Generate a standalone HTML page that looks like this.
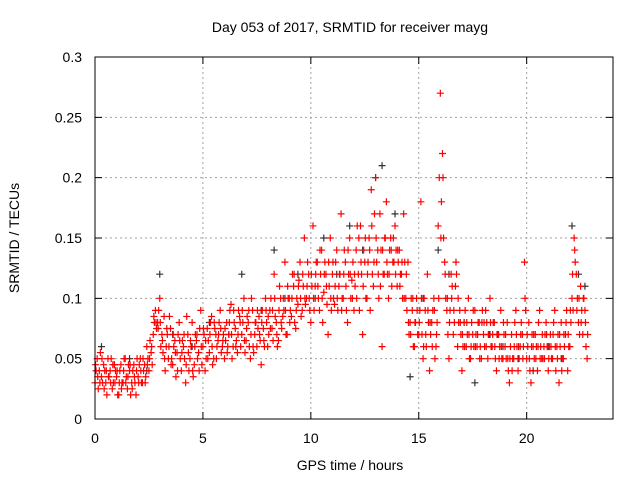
<!DOCTYPE html>
<html><head><meta charset="utf-8"><style>
html,body{margin:0;padding:0;background:#fff;}
svg{display:block;font-family:"Liberation Sans",sans-serif;}
</style></head><body>
<svg id="chart" width="640" height="480" viewBox="0 0 640 480">
<rect width="640" height="480" fill="#fff"/>
<text x="350" y="32" font-size="14" text-anchor="middle" fill="#000">Day 053 of 2017, SRMTID for receiver mayg</text>
<g id="grid"></g>
<g id="axes"></g>
<g id="marks"></g>
<rect x="95" y="57" width="518" height="362" fill="none" stroke="#000" stroke-width="1"/>
<text x="350" y="470" font-size="14" text-anchor="middle">GPS time / hours</text>
<text transform="translate(19,238) rotate(-90)" font-size="14" text-anchor="middle">SRMTID / TECUs</text>
</svg>
<script>
const xTicks=[0,5,10,15,20];
const yTicks=[0,0.05,0.1,0.15,0.2,0.25,0.3];
const yTickLabels=["0","0.05","0.1","0.15","0.2","0.25","0.3"];
const redStart=0, redStep=0.1;
const redValues=[
0.03,0.05,0.04,0.035,0.045,0.03,0.05,0.04,0.025,0.045,
0.035,0.02,0.045,0.03,0.05,0.025,0.04,0.03,0.045,0.02,
0.035,0.05,0.03,0.045,0.06,0.04,0.055,0.07,0.09,0.08,
0.1,0.07,0.085,0.06,0.05,0.075,0.045,0.065,0.055,0.08,
0.04,0.06,0.03,0.07,0.05,0.08,0.045,0.065,0.055,0.09,
0.06,0.04,0.075,0.055,0.085,0.05,0.07,0.065,0.09,0.06,
0.05,0.08,0.07,0.095,0.06,0.075,0.055,0.085,0.07,0.1,
0.065,0.08,0.05,0.09,0.07,0.06,0.085,0.045,0.075,0.1,
0.06,0.09,0.075,0.12,0.08,0.065,0.1,0.085,0.13,0.07,
0.1,0.085,0.11,0.075,0.095,0.13,0.09,0.15,0.1,0.12,
0.08,0.16,0.11,0.13,0.09,0.14,0.105,0.12,0.07,0.15,
0.12,0.095,0.14,0.11,0.17,0.1,0.13,0.08,0.15,0.115,
0.09,0.14,0.12,0.16,0.07,0.13,0.1,0.15,0.19,0.11,
0.2,0.14,0.17,0.06,0.12,0.18,0.1,0.15,0.13,0.16,
0.11,0.14,0.12,0.17,0.1,0.13,0.08,0.09,0.06,0.1,
0.07,0.18,0.05,0.09,0.12,0.04,0.08,0.1,0.06,0.16,
0.27,0.22,0.13,0.09,0.05,0.12,0.07,0.11,0.06,0.09,
0.04,0.08,0.06,0.1,0.05,0.07,0.09,0.06,0.08,0.05,
0.07,0.09,0.05,0.1,0.06,0.08,0.04,0.07,0.09,0.05,
0.06,0.08,0.03,0.07,0.05,0.09,0.04,0.06,0.07,0.13,
0.05,0.08,0.03,0.06,0.07,0.04,0.09,0.05,0.06,0.08,
0.04,0.07,0.05,0.09,0.06,0.03,0.08,0.05,0.07,0.04,
0.06,0.1,0.15,0.12,0.08,0.11,0.07,0.09,0.05];
const red2Start=0.05, red2Step=0.1;
const red2Values=[
0.04,0.025,0.055,0.03,0.04,0.02,0.035,0.05,0.03,0.04,
0.02,0.04,0.03,0.05,0.035,0.045,0.02,0.04,0.03,0.05,
0.045,0.03,0.04,0.035,0.05,0.065,0.045,0.08,0.075,0.09,
0.06,0.055,0.04,0.07,0.085,0.05,0.06,0.035,0.07,0.05,
0.065,0.05,0.085,0.04,0.06,0.035,0.07,0.05,0.075,0.045,
0.07,0.05,0.065,0.08,0.045,0.075,0.06,0.08,0.055,0.07,
0.065,0.06,0.09,0.05,0.08,0.065,0.09,0.06,0.08,0.055,
0.085,0.06,0.1,0.055,0.08,0.075,0.065,0.09,0.06,0.08,
0.07,0.1,0.065,0.085,0.06,0.11,0.075,0.09,0.07,0.1,
0.09,0.12,0.08,0.1,0.115,0.085,0.11,0.095,0.13,0.09,
0.11,0.09,0.13,0.1,0.12,0.08,0.13,0.095,0.11,0.09,
0.1,0.13,0.09,0.12,0.1,0.14,0.09,0.12,0.1,0.13,
0.11,0.16,0.09,0.12,0.14,0.1,0.13,0.09,0.12,0.17,
0.13,0.1,0.14,0.12,0.15,0.12,0.14,0.11,0.13,0.14,
0.13,0.12,0.1,0.13,0.09,0.07,0.1,0.06,0.08,0.07,
0.09,0.07,0.1,0.06,0.08,0.07,0.09,0.05,0.08,0.2,
0.18,0.15,0.1,0.07,0.09,0.11,0.08,0.12,0.08,0.07,
0.06,0.09,0.07,0.05,0.08,0.06,0.07,0.08,0.06,0.09,
0.06,0.08,0.07,0.06,0.08,0.05,0.07,0.06,0.05,0.07,
0.05,0.04,0.06,0.05,0.08,0.06,0.05,0.08,0.06,0.09,
0.06,0.04,0.07,0.05,0.06,0.08,0.06,0.05,0.07,0.06,
0.06,0.05,0.08,0.04,0.07,0.06,0.05,0.06,0.09,0.06,
0.08,0.09,0.13,0.1,0.07,0.09,0.1,0.06];
const red3Start=0.025, red3Step=0.1;
const red3Values=[
0.045,0.035,0.03,0.05,0.025,0.04,0.035,0.03,0.045,0.03,
0.04,0.03,0.025,0.04,0.03,0.035,0.045,0.025,0.035,0.04,
0.03,0.04,0.05,0.03,0.045,0.05,0.06,0.085,0.08,0.075,
0.08,0.065,0.05,0.075,0.06,0.045,0.07,0.055,0.04,0.065,
0.055,0.07,0.045,0.055,0.065,0.04,0.06,0.07,0.04,0.06,
0.075,0.065,0.05,0.07,0.06,0.08,0.05,0.07,0.075,0.065,
0.075,0.055,0.08,0.07,0.09,0.06,0.07,0.08,0.09,0.065,
0.075,0.09,0.07,0.06,0.08,0.09,0.07,0.08,0.065,0.09,
0.085,0.075,0.09,0.1,0.07,0.09,0.08,0.1,0.09,0.11,
0.08,0.1,0.12,0.09,0.11,0.1,0.12,0.1,0.11,0.1,
0.12,0.1,0.12,0.11,0.14,0.1,0.12,0.11,0.13,0.1,
0.13,0.11,0.1,0.12,0.09,0.12,0.11,0.14,0.12,0.1,
0.12,0.1,0.15,0.13,0.11,0.15,0.12,0.14,0.16,0.13,
0.15,0.12,0.11,0.14,0.15,0.13,0.12,0.14,0.15,0.12,
0.14,0.11,0.13,0.1,0.12,0.08,0.07,0.1,0.08,0.09,
0.08,0.1,0.06,0.07,0.09,0.08,0.06,0.09,0.07,0.1,
0.15,0.2,0.12,0.1,0.08,0.1,0.09,0.13,0.1,0.08,
0.07,0.06,0.08,0.07,0.06,0.09,0.06,0.07,0.05,0.08,
0.08,0.06,0.07,0.08,0.07,0.06,0.07,0.05,0.06,0.08,
0.07,0.05,0.05,0.04,0.06,0.07,0.06,0.07,0.05,0.1,
0.07,0.05,0.06,0.07,0.05,0.06,0.05,0.07,0.05,0.07,
0.05,0.06,0.07,0.06,0.05,0.07,0.04,0.07,0.08,0.07,
0.09,0.12,0.14,0.09,0.1,0.08,0.1,0.08,0.07];
const blackTimes=[0.3,0.9,1.6,2.4,3.0,3.6,4.5,5.3,6.2,6.8,7.7,8.3,8.8,9.4,10.2,10.6,11.2,11.8,12.4,13.0,13.3,13.9,14.6,15.2,15.9,16.4,17.1,17.6,18.3,18.9,19.6,20.3,21.0,21.6,22.1,22.4,22.7];
const blackValues=[0.06,0.045,0.05,0.04,0.12,0.07,0.06,0.08,0.07,0.12,0.09,0.14,0.1,0.12,0.1,0.15,0.12,0.16,0.14,0.2,0.21,0.17,0.035,0.1,0.14,0.12,0.08,0.03,0.07,0.06,0.05,0.04,0.06,0.05,0.16,0.12,0.11];
const X=v=>95+v*(518/24);
const Y=v=>419-v*(362/0.3);
const NS="http://www.w3.org/2000/svg";
function mk(tag,attrs,parent){const e=document.createElementNS(NS,tag);for(const k in attrs)e.setAttribute(k,attrs[k]);parent.appendChild(e);return e;}
const grid=document.getElementById('grid'),axes=document.getElementById('axes'),marks=document.getElementById('marks');
xTicks.forEach(t=>{
  const x=X(t);
  if(t>0){const g=mk('line',{x1:x,y1:57,x2:x,y2:419,stroke:'#a0a0a0','stroke-dasharray':'2,3','stroke-width':1},grid);
  
  }
  const tk=mk('path',{d:`M${x},419v-7M${x},57v7`,stroke:'#000'},axes);
  
  
  const l=mk('text',{x:x,y:443,'font-size':14,'text-anchor':'middle'},axes);l.textContent=t;
  
  
});
yTicks.forEach((t,i)=>{
  const y=Y(t);
  if(i>0&&i<yTicks.length-1){const g=mk('line',{x1:95,y1:y,x2:613,y2:y,stroke:'#a0a0a0','stroke-dasharray':'2,3','stroke-width':1},grid);
  
  }
  const tk=mk('path',{d:`M95,${y}h7M613,${y}h-7`,stroke:'#000'},axes);
  
  
  const l=mk('text',{x:82,y:y+5,'font-size':14,'text-anchor':'end'},axes);l.textContent=yTickLabels[i];
  
  
});
function plus(t,v,col,name){
  const x=X(t),y=Y(v);
  const p=mk('path',{d:`M${x-3.5},${y}h7M${x},${y-3.5}v7`,stroke:col,'stroke-width':1.2},marks);
  
  
}
blackValues.forEach((v,i)=>plus(blackTimes[i],v,'#333','black-point'));
redValues.forEach((v,i)=>plus(redStart+i*redStep,v,'#f00','red-point'));
red2Values.forEach((v,i)=>plus(red2Start+i*red2Step,v,'#f00','red-point'));
red3Values.forEach((v,i)=>plus(red3Start+i*red3Step,v,'#f00','red-point'));
</script>
</body></html>
